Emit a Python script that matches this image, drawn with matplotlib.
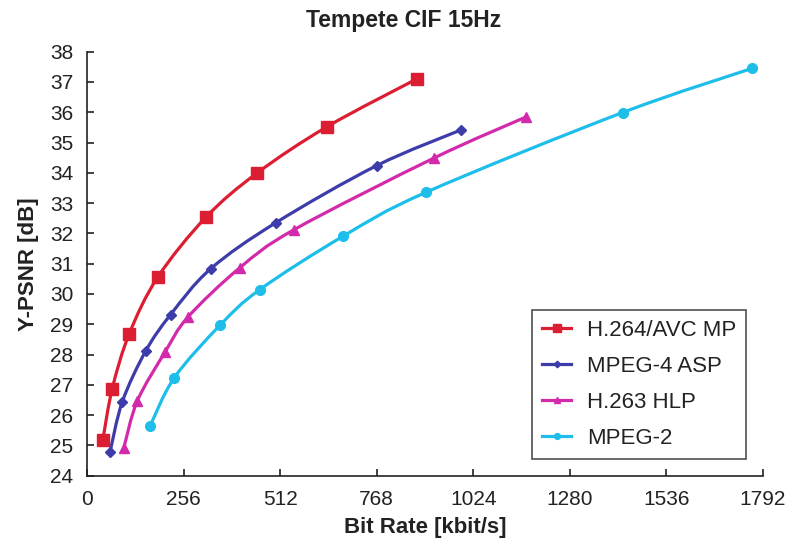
import matplotlib
matplotlib.use("Agg")
import matplotlib.pyplot as plt
from matplotlib.path import Path
from matplotlib.patches import PathPatch
from matplotlib.lines import Line2D

plt.rcParams['font.family'] = ['Liberation Sans', 'DejaVu Sans']

# ---- data ----
h264_rate = [41, 66, 111, 187, 315, 450, 637, 874]
h264_psnr = [25.17, 26.87, 28.68, 30.56, 32.54, 33.99, 35.53, 37.10]

mpeg4_rate = [60, 93, 155, 221, 327, 501, 768, 992]
mpeg4_psnr = [24.77, 26.45, 28.12, 29.32, 30.83, 32.36, 34.24, 35.42]

h263_rate = [97, 133, 207, 267, 404, 548, 920, 1163]
h263_psnr = [24.93, 26.48, 28.10, 29.24, 30.86, 32.12, 34.49, 35.84]

mpeg2_rate = [166, 231, 353, 457, 679, 899, 1420, 1764]
mpeg2_psnr = [25.63, 27.24, 28.98, 30.14, 31.91, 33.36, 35.99, 37.45]

labels = ['H.264/AVC MP', 'MPEG-4 ASP', 'H.263 HLP', 'MPEG-2']
colors = ['#DC1E32', '#3C3CAA', '#D22AAA', '#1EBEEB']
markers = ['s', 'D', '^', 'o']
msizes = [8.5, 5.5, 7.5, 7]

xticks = [0, 256, 512, 768, 1024, 1280, 1536, 1792]
yticks = list(range(24, 39))


def smooth_path(x, y):
    pts = list(zip(x, y))
    n = len(pts)
    verts = [pts[0]]
    codes = [Path.MOVETO]
    for i in range(n - 1):
        p0 = pts[i - 1] if i > 0 else pts[i]
        p1 = pts[i]
        p2 = pts[i + 1]
        p3 = pts[i + 2] if i + 2 < n else pts[i + 1]
        c1 = (p1[0] + (p2[0] - p0[0]) / 6.0, p1[1] + (p2[1] - p0[1]) / 6.0)
        c2 = (p2[0] - (p3[0] - p1[0]) / 6.0, p2[1] - (p3[1] - p1[1]) / 6.0)
        verts += [c1, c2, p2]
        codes += [Path.CURVE4] * 3
    return Path(verts, codes)


fig = plt.figure(figsize=(7.94, 5.47), dpi=100)
ax = fig.add_axes([0.110, 0.1303, 0.8506, 0.7752])

series = [(h264_rate, h264_psnr), (mpeg4_rate, mpeg4_psnr),
          (h263_rate, h263_psnr), (mpeg2_rate, mpeg2_psnr)]
handles = []
for (xr, yr), lab, col, mk, ms in zip(series, labels, colors, markers, msizes):
    patch = PathPatch(smooth_path(xr, yr), facecolor='none', edgecolor=col,
                      lw=2.3, zorder=2, capstyle='round', joinstyle='round')
    ax.add_patch(patch)
    ax.plot(xr, yr, linestyle='none', marker=mk, color=col, markersize=ms,
            markeredgecolor=col, zorder=3)
    handles.append(Line2D([], [], color=col, lw=2.3, marker=mk,
                          markersize=ms * 0.6, label=lab))

ax.set_xlim(0, 1792)
ax.set_ylim(24, 38)
ax.set_xticks(xticks)
ax.set_xticklabels([str(v) for v in xticks])
ax.set_yticks(yticks)
ax.set_yticklabels([str(v) for v in yticks])

for s in ['top', 'right']:
    ax.spines[s].set_visible(False)
for s in ['left', 'bottom']:
    ax.spines[s].set_linewidth(1.2)
    ax.spines[s].set_color('#222222')

ax.tick_params(axis='both', direction='in', length=5, width=1.2,
               labelsize=15, colors='#222222', labelcolor='#222222')
ax.tick_params(axis='y', pad=10)
ax.tick_params(axis='x', pad=10)

ax.set_xlabel('Bit Rate [kbit/s]', fontsize=16, fontweight='bold',
              color='#222222', labelpad=6)
ax.set_ylabel('Y-PSNR [dB]', fontsize=16, fontweight='bold',
              color='#222222', labelpad=8)
fig.text(0.508, 0.962, 'Tempete CIF 15Hz', ha='center', va='center',
         fontsize=16.5, fontweight='bold', color='#222222')

leg = ax.legend(handles=handles, loc='lower right', fontsize=16,
                frameon=True, fancybox=False, edgecolor='#222222',
                handlelength=1.3, handletextpad=0.7, labelspacing=0.68,
                borderpad=0.45, borderaxespad=0.75)
leg.get_frame().set_linewidth(1.2)
for t in leg.get_texts():
    t.set_color('#222222')

fig.savefig('out.png', dpi=100)
